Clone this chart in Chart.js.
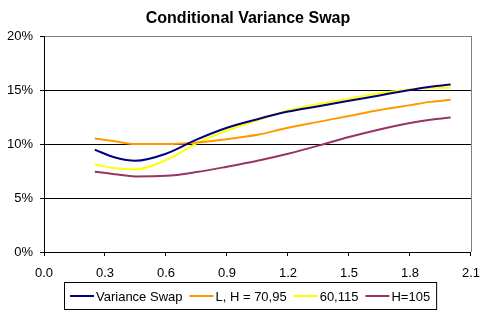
<!DOCTYPE html>
<html><head><meta charset="utf-8">
<script src="https://cdn.jsdelivr.net/npm/chart.js@4"></script>
<style>html,body{margin:0;padding:0;background:#fff}</style>
</head><body>
<canvas id="c" width="490" height="325"></canvas>
<script>
const titleText = 'Conditional Variance Swap';
const xValues = [0.25, 0.35, 0.45, 0.6, 0.75, 0.9, 1.05, 1.2, 1.35, 1.5, 1.65, 1.8, 1.9, 2.0];
const varianceSwap = [9.47, 8.75, 8.45, 9.1, 10.4, 11.5, 12.3, 13.0, 13.5, 14.0, 14.5, 15.0, 15.3, 15.5];
const lh7095 = [10.5, 10.25, 10.0, 10.0, 10.15, 10.45, 10.85, 11.5, 12.05, 12.6, 13.15, 13.6, 13.9, 14.1];
const s60115 = [8.1, 7.75, 7.65, 8.5, 10.05, 11.25, 12.2, 13.1, 13.7, 14.2, 14.7, 15.05, 15.2, 15.2];
const h105 = [7.44, 7.2, 7.0, 7.05, 7.4, 7.9, 8.45, 9.1, 9.85, 10.65, 11.35, 11.95, 12.25, 12.45];
const seriesLabels = ['Variance Swap', 'L, H = 70,95', '60,115', 'H=105'];
const seriesColors = ['#000080', '#FF9900', '#FFFF00', '#993366'];
const seriesValues = [varianceSwap, lh7095, s60115, h105];

const FONT = '"Liberation Sans", Arial, sans-serif';

const datasets = seriesValues.map((vals, i) => ({
  label: seriesLabels[i],
  data: xValues.map((x, j) => ({x: x, y: vals[j]})),
  borderColor: seriesColors[i],
  backgroundColor: seriesColors[i],
  borderWidth: 2,
  pointRadius: 0,
  fill: false,
  cubicInterpolationMode: 'monotone'
}));

const decor = {
  id: 'decor',
  beforeDatasetsDraw(chart) {
    const c = chart.ctx, a = chart.chartArea;
    c.save();
    c.strokeStyle = '#808080';
    c.lineWidth = 1;
    c.beginPath();
    c.moveTo(Math.round(a.right) + 0.5, a.top);
    c.lineTo(Math.round(a.right) + 0.5, a.bottom);
    c.stroke();
    c.restore();
  },
  afterDraw(chart) {
    const c = chart.ctx;
    c.save();
    c.fillStyle = '#000';
    c.font = 'bold 16px ' + FONT;
    c.textAlign = 'center';
    c.textBaseline = 'middle';
    c.fillText(titleText, 248, 19);
    // legend
    c.font = '13px ' + FONT;
    c.textAlign = 'left';
    let x = 70;
    const yMid = 296;
    const items = [];
    chart.data.datasets.forEach(ds => {
      const w = c.measureText(ds.label).width;
      items.push({x: x, ds: ds, w: w});
      x += 26 + w + 7;
    });
    const right = x - 7 + 6;
    c.strokeStyle = '#000';
    c.lineWidth = 1;
    c.strokeRect(64.5, 282.5, right - 64, 27);
    items.forEach(it => {
      c.strokeStyle = it.ds.borderColor;
      c.lineWidth = 2;
      c.beginPath();
      c.moveTo(it.x, yMid);
      c.lineTo(it.x + 24, yMid);
      c.stroke();
      c.fillStyle = '#000';
      c.fillText(it.ds.label, it.x + 26, yMid + 1);
    });
    c.restore();
  }
};

new Chart(document.getElementById('c').getContext('2d'), {
  type: 'line',
  data: { datasets: datasets },
  plugins: [decor],
  options: {
    responsive: false,
    animation: false,
    layout: { padding: { left: 0, right: 16, top: 36, bottom: 43 } },
    plugins: { legend: { display: false }, title: { display: false }, tooltip: { enabled: false } },
    scales: {
      x: {
        type: 'linear', min: 0, max: 2.1,
        afterFit: s => { s.height = 30; },
        ticks: { stepSize: 0.3, color: '#000', padding: 10, maxRotation: 0,
          font: { family: FONT, size: 13 },
          callback: v => Number(v).toFixed(1) },
        grid: { drawOnChartArea: false, color: '#000', tickLength: 4 },
        border: { color: '#000' }
      },
      y: {
        min: 0, max: 20,
        afterFit: s => { s.width = 44; },
        ticks: { stepSize: 5, color: '#000', padding: 7,
          font: { family: FONT, size: 13 },
          callback: v => v + '%' },
        grid: { color: ctx => (ctx.tick && ctx.tick.value === 20) ? '#808080' : '#000', tickColor: '#000', tickLength: 4 },
        border: { color: '#000' }
      }
    }
  }
});
</script>
</body></html>
